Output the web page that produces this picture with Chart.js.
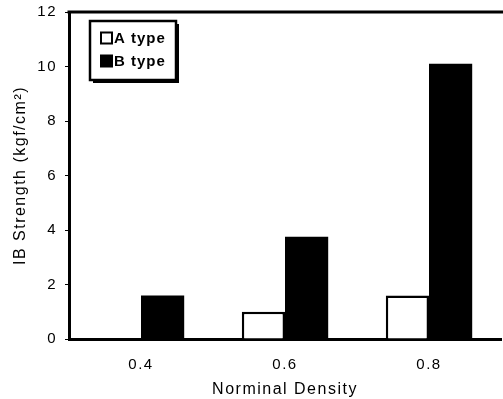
<!DOCTYPE html>
<html><head><meta charset="utf-8">
<script src="https://cdn.jsdelivr.net/npm/chart.js@4"></script>
<style>html,body{margin:0;padding:0;background:#fff}#wrap{width:503px;height:399px;position:relative}</style>
</head><body><div id="wrap"><canvas id="c" width="503" height="399"></canvas></div>
<script>
const categories = ['0.4', '0.6', '0.8'];
const seriesA = [null, 1.0, 1.6];
const seriesB = [1.6, 3.75, 10.1];
const seriesNames = ['A type', 'B type'];
const yTicks = [0, 2, 4, 6, 8, 10, 12];
const FONT = "'Liberation Sans', Arial, sans-serif";

const spacing = {
  id: 'spacing',
  beforeLayout(chart) { chart.ctx.letterSpacing = '1.5px'; },
  beforeDraw(chart) { chart.ctx.letterSpacing = '1.5px'; }
};

const frame = {
  id: 'frame',
  afterDraw(chart) {
    const {ctx, chartArea: a} = chart;
    ctx.save();
    ctx.strokeStyle = '#000';
    ctx.lineWidth = 3;
    ctx.beginPath();
    ctx.moveTo(a.left - 1.5, a.top);
    ctx.lineTo(a.right + 5, a.top);
    ctx.stroke();
    // legend
    const x0 = 90, y0 = 21, w = 86, h = 59;
    ctx.fillStyle = '#000';
    ctx.fillRect(x0 + 3, y0 + 3, w, h);
    ctx.fillStyle = '#fff';
    ctx.fillRect(x0, y0, w, h);
    ctx.lineWidth = 2.5;
    ctx.strokeRect(x0, y0, w, h);
    ctx.font = "bold 15px " + FONT;
    ctx.letterSpacing = '1px';
    ctx.textBaseline = 'middle';
    chart.data.datasets.forEach((ds, i) => {
      const cy = y0 + 17 + i * 23;
      ctx.fillStyle = ds.backgroundColor;
      ctx.fillRect(x0 + 11, cy - 5.5, 11, 11);
      ctx.strokeStyle = '#000';
      ctx.lineWidth = 2;
      ctx.strokeRect(x0 + 11, cy - 5.5, 11, 11);
      ctx.fillStyle = '#000';
      ctx.fillText(ds.label, x0 + 24, cy + 1);
    });
    ctx.restore();
  }
};

new Chart(document.getElementById('c'), {
  type: 'bar',
  data: {
    labels: categories,
    datasets: [
      {label: seriesNames[0], data: seriesA, backgroundColor: '#ffffff', borderColor: '#000', borderWidth: 2.5, borderSkipped: 'bottom'},
      {label: seriesNames[1], data: seriesB, backgroundColor: '#000000', borderColor: '#000', borderWidth: 0}
    ]
  },
  options: {
    responsive: false,
    animation: false,
    layout: {padding: {top: 12, right: 2, left: 0, bottom: 0}},
    datasets: {bar: {categoryPercentage: 0.6, barPercentage: 1.0}},
    plugins: {legend: {display: false}, tooltip: {enabled: false}},
    scales: {
      x: {
        grid: {display: false},
        border: {display: true, color: '#000', width: 3},
        ticks: {color: '#000', font: {family: FONT, size: 15}, padding: 9},
        title: {display: true, text: 'Norminal Density', color: '#000', font: {family: FONT, size: 16}, padding: {top: 3, bottom: 0}},
        afterFit(s) { s.height = 60; s.paddingLeft = 0; s.paddingRight = 0; }
      },
      y: {
        min: 0, max: 12,
        afterBuildTicks(s) { s.ticks = yTicks.map(v => ({value: v})); },
        grid: {drawOnChartArea: false, color: '#000', tickLength: 4, lineWidth: 1},
        border: {display: true, color: '#000', width: 3},
        ticks: {color: '#000', font: {family: FONT, size: 15}, padding: 8},
        title: {display: true, text: 'IB Strength (kgf/cm²)', color: '#000', font: {family: FONT, size: 16}, padding: {top: 11, bottom: 0}},
        afterFit(s) { s.width = 69; s.paddingTop = 0; s.paddingBottom = 0; }
      }
    }
  },
  plugins: [spacing, frame]
});
</script></body></html>
